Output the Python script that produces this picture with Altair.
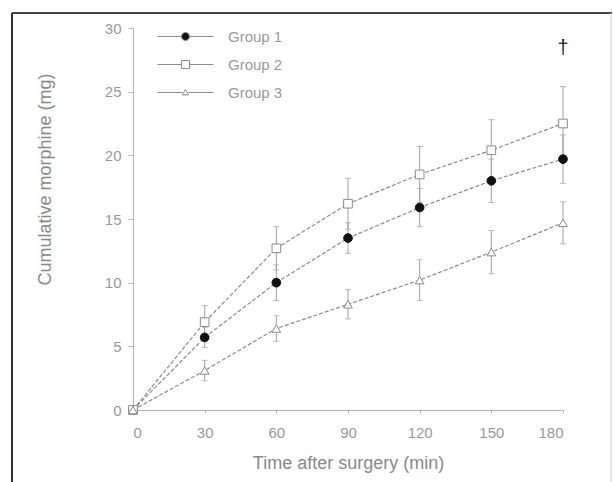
import altair as alt
import pandas as pd

# ---- data ----
times = [0, 30, 60, 90, 120, 150, 180]
groups = ["Group 1", "Group 2", "Group 3"]
g1_mean = [0, 5.7, 10.0, 13.5, 15.9, 18.0, 19.7]
g1_se = [0, 0.8, 1.4, 1.2, 1.5, 1.7, 1.9]
g2_mean = [0, 6.9, 12.7, 16.2, 18.5, 20.4, 22.5]
g2_se = [0, 1.3, 1.7, 2.0, 2.2, 2.4, 2.9]
g3_mean = [0, 3.1, 6.4, 8.3, 10.2, 12.4, 14.7]
g3_se = [0, 0.8, 1.0, 1.15, 1.6, 1.7, 1.65]
dagger_time = [180]
dagger_value = [28.4]
dagger_text = ["\u2020"]

rows = []
for g, m, s in zip(groups, [g1_mean, g2_mean, g3_mean], [g1_se, g2_se, g3_se]):
    for t, mm, ss in zip(times, m, s):
        rows.append({"time": t, "group": g, "mean": mm, "lo": mm - ss, "hi": mm + ss})
df = pd.DataFrame(rows)
caps = df.melt(id_vars=["time", "group"], value_vars=["lo", "hi"], value_name="end")
ann = pd.DataFrame({"time": dagger_time, "value": dagger_value, "text": dagger_text})

FONT = "Liberation Sans"
AX = "#b5b5b5"
GREY = "#8c8c8c"

x_scale = alt.Scale(domain=[0, 180], nice=False)
y_scale = alt.Scale(domain=[0, 30], nice=False)

x_axis = alt.Axis(
    values=list(range(0, 181, 15)),
    labelExpr="datum.value % 30 === 0 ? datum.label : ''",
    tickSize=3,
    title="Time after surgery  (min)",
    titleY=53, titleBaseline="middle",
    labelPadding=12, grid=False,
)
y_axis = alt.Axis(
    values=[i * 2.5 for i in range(13)],
    labelExpr="datum.value % 5 === 0 ? datum.label : ''",
    tickSize={"condition": {"test": "datum.value % 5 === 0", "value": 5}, "value": 3},
    title="Cumulative  morphine  (mg)",
    titleX=-88, titleY=151, titleAngle=-90, titleBaseline="middle",
    labelPadding=7, grid=False,
)

base = alt.Chart(df)

bars = base.mark_rule(color="#a0a0a0", strokeWidth=1).encode(
    x=alt.X("time:Q", scale=x_scale, axis=x_axis),
    y=alt.Y("lo:Q", scale=y_scale, axis=y_axis),
    y2="hi:Q",
)

cap_marks = alt.Chart(caps).mark_tick(
    orient="horizontal", size=6, thickness=1, color="#a0a0a0"
).encode(x="time:Q", y="end:Q")

lines = base.mark_line(strokeDash=[4, 2], strokeWidth=1.2, color=GREY).encode(
    x="time:Q", y="mean:Q", detail="group:N", order="time:Q"
)

points = base.mark_point(opacity=1, fillOpacity=1, strokeWidth=1).encode(
    x="time:Q",
    y="mean:Q",
    shape=alt.Shape("group:N", scale=alt.Scale(domain=groups, range=["circle", "square", "triangle-up"]), legend=None),
    fill=alt.Fill("group:N", scale=alt.Scale(domain=groups, range=["#111111", "white", "white"]), legend=None),
    stroke=alt.Stroke("group:N", scale=alt.Scale(domain=groups, range=["#111111", GREY, GREY]), legend=None),
    size=alt.Size("group:N", scale=alt.Scale(domain=groups, range=[75, 75, 30]), legend=None),
)

# legend symbols: line segment with marker (custom paths)
sym1 = "M-7,0H-1M7,0H1M1,0A1,1 0 1,1 -1,0A1,1 0 1,1 1,0Z"
sym2 = "M-7,0H-1M7,0H1M-1,-1H1V1H-1Z"
sym3 = "M-7,0H-0.8M7,0H0.8M0,-0.8L0.8,0.6H-0.8Z"
legend_layer = base.transform_filter("false").mark_point(opacity=1, fillOpacity=1, strokeWidth=1).encode(
    x="time:Q",
    y="mean:Q",
    shape=alt.Shape(
        "group:N",
        scale=alt.Scale(domain=groups, range=[sym1, sym2, sym3]),
        legend=alt.Legend(
            title=None, orient="none", legendX=45, legendY=1,
            symbolSize=64, symbolStrokeWidth=1,
            labelOffset=35, rowPadding=12, labelFont=FONT, labelFontSize=15,
            labelColor="#9a9a9a",
        ),
    ),
    fill=alt.Fill("group:N", scale=alt.Scale(domain=groups, range=["#111111", "white", "white"])),
    stroke=alt.Stroke("group:N", scale=alt.Scale(domain=groups, range=[GREY, GREY, GREY])),
)

dagger = alt.Chart(ann).mark_text(fontSize=20, color="#222222", font=FONT, baseline="middle").encode(
    x="time:Q", y="value:Q", text="text:N"
)

frame_data = alt.Data(values=[{"k": 1}])
frame_left = alt.Chart(frame_data).mark_rule(color="#333", strokeWidth=2).encode(
    x=alt.value(-121), y=alt.value(-15), y2=alt.value(460)
)
frame_top = alt.Chart(frame_data).mark_rule(color="#444", strokeWidth=2).encode(
    x=alt.value(-121), x2=alt.value(479), y=alt.value(-15)
)
frame_right = alt.Chart(frame_data).mark_rule(color="#ccc", strokeWidth=1).encode(
    x=alt.value(478), y=alt.value(-15), y2=alt.value(460)
)

chart = alt.layer(
    frame_left, frame_top, frame_right,
    bars, cap_marks, lines, points, legend_layer, dagger
).resolve_scale(
    shape="independent", fill="independent", stroke="independent", size="independent"
).properties(
    width=430, height=382,
    padding={"left": 133, "top": 28, "right": 50, "bottom": 72},
    autosize="none",
).configure_view(stroke=None).configure_axis(
    domainColor=AX, tickColor=AX, labelColor="#9a9a9a", titleColor="#8a8a8a",
    labelFont=FONT, titleFont=FONT, labelFontSize=15, titleFontSize=18,
    titleFontWeight="normal", domainWidth=1, tickWidth=1,
)

chart.save("out.html", embed_options={"renderer": "svg", "actions": False})
